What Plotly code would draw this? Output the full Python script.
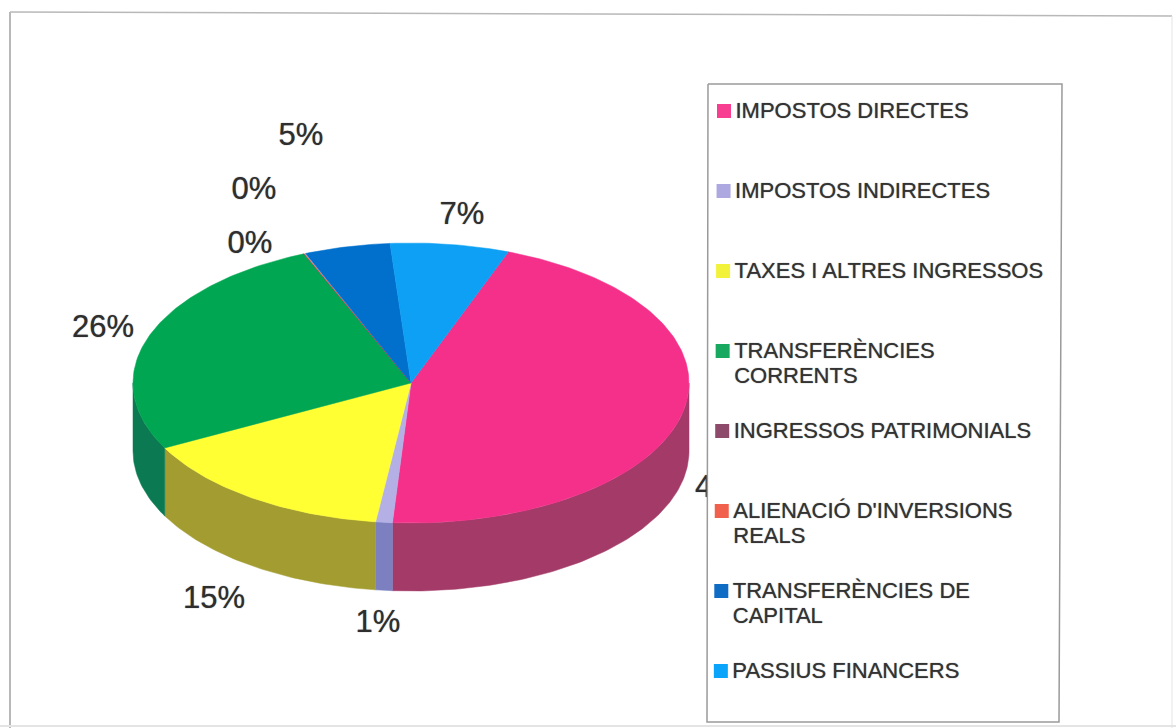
import math
import plotly.graph_objects as go

categories = ["IMPOSTOS DIRECTES", "IMPOSTOS INDIRECTES", "TAXES I ALTRES INGRESSOS",
              "TRANSFERÈNCIES CORRENTS", "INGRESSOS PATRIMONIALS",
              "ALIENACIÓ D'INVERSIONS REALS", "TRANSFERÈNCIES DE CAPITAL", "PASSIUS FINANCERS"]
legend_lines = [["IMPOSTOS DIRECTES"], ["IMPOSTOS INDIRECTES"], ["TAXES I ALTRES INGRESSOS"],
                ["TRANSFERÈNCIES", "CORRENTS"], ["INGRESSOS PATRIMONIALS"],
                ["ALIENACIÓ D'INVERSIONS", "REALS"], ["TRANSFERÈNCIES DE", "CAPITAL"],
                ["PASSIUS FINANCERS"]]
values = [45.4, 0.97, 15.3, 26.4, 0.05, 0.05, 5.0, 6.9]
value_labels = ["45%", "1%", "15%", "26%", "0%", "0%", "5%", "7%"]
top_colors = ["#F5308A", "#B4B0E6", "#FFFF33", "#00A651", "#8E4A6B", "#F0503C", "#0070CC", "#0DA0F5"]
side_colors = ["#A33A68", "#7C80C0", "#A39C30", "#0B7A52", "#6E3650", "#B03C2C", "#005299", "#0A78B8"]
legend_colors = ["#F83E90", "#AEA8E0", "#F2F23A", "#18A860", "#8E4A6B", "#F0604C", "#0E6CC4", "#0AA4FA"]
label_x = [726, 378, 214, 103, 250, 254, 301, 462]
label_y = [489, 624, 600, 329, 245, 191, 137, 216]

CX, CY, RX, RY, DEPTH = 411, 383, 278, 140, 68
START = 20.5
INK = "#2E2E2E"
FONT = "Liberation Sans, Arial, sans-serif"


def pt(deg, dy=0):
    r = math.radians(deg)
    return CX + RX * math.sin(r), CY - RY * math.cos(r) + dy


def arc(a, b, dy=0):
    n = max(2, int(abs(b - a)) + 2)
    return [pt(a + (b - a) * i / (n - 1), dy) for i in range(n)]


fig = go.Figure()
total = sum(values)
angles = [START]
for v in values:
    angles.append(angles[-1] + v / total * 360)


def poly(points, fill, line=None, name=""):
    xs = [p[0] for p in points] + [points[0][0]]
    ys = [p[1] for p in points] + [points[0][1]]
    fig.add_trace(go.Scatter(x=xs, y=ys, mode="lines", fill="toself", fillcolor=fill,
                             line=dict(color=line or fill, width=0.5), name=name,
                             hoverinfo="name", showlegend=False))


# side walls (front half only)
for i, c in enumerate(categories):
    a, b = max(angles[i], 90), min(angles[i + 1], 270)
    if b > a:
        poly(arc(a, b) + arc(b, a, DEPTH), side_colors[i], name=c)
# top faces
for i, c in enumerate(categories):
    poly([(CX, CY)] + arc(angles[i], angles[i + 1]), top_colors[i], name=c)

# percentage labels
fig.add_trace(go.Scatter(x=label_x, y=label_y, mode="text", text=value_labels,
                         textposition="middle center", hoverinfo="skip", showlegend=False,
                         textfont=dict(family=FONT, size=31, color=INK, shadow="0 0 1px #666666")))

# legend box (drawn over the clipped first label)
poly([(708, 84), (1062, 84), (1059, 722), (707, 722)], "#FFFFFF", "#9A9A9A", "legend")
fig.data[-1].line.width = 1.5

row_x, row_y, row_text, mx, my = [], [], [], [], []
for i, lines in enumerate(legend_lines):
    y0 = 112 + 80 * i
    x0 = 735.5 - 0.45 * i
    mx.append(x0 - 11.5)
    my.append(y0 - 1)
    for j, t in enumerate(lines):
        row_x.append(x0)
        row_y.append(y0 + 25 * j)
        row_text.append(t)
fig.add_trace(go.Scatter(x=mx, y=my, mode="markers", hoverinfo="skip", showlegend=False,
                         marker=dict(symbol="square", size=14, color=legend_colors, line=dict(width=0))))
fig.add_trace(go.Scatter(x=row_x, y=row_y, mode="text", text=row_text, textposition="middle right",
                         hoverinfo="skip", showlegend=False,
                         textfont=dict(family=FONT, size=22, color="#333333", shadow="0 0 1px #666666")))

frame = "#B8B8B8"
fig.update_layout(
    width=1176, height=728, autosize=False,
    margin=dict(l=0, r=0, t=0, b=0),
    paper_bgcolor="#FFFFFF", plot_bgcolor="#FFFFFF",
    xaxis=dict(range=[0, 1176], visible=False, fixedrange=True),
    yaxis=dict(range=[728, 0], visible=False, fixedrange=True),
    shapes=[
        dict(type="line", x0=10, y0=12, x1=1172, y1=16, line=dict(color=frame, width=1.5), layer="below"),
        dict(type="line", x0=10, y0=12, x1=10, y1=728, line=dict(color=frame, width=2), layer="below"),
        dict(type="line", x0=1172, y0=16, x1=1172, y1=728, line=dict(color="#E4E4E4", width=1), layer="below"),
        dict(type="line", x0=0, y0=726, x1=1176, y1=726, line=dict(color="#E4E4E4", width=2), layer="below"),
    ],
)
fig.write_html("out.html", config={"displayModeBar": False},
               post_script="document.body.style.margin='0';document.body.style.overflow='hidden';")
